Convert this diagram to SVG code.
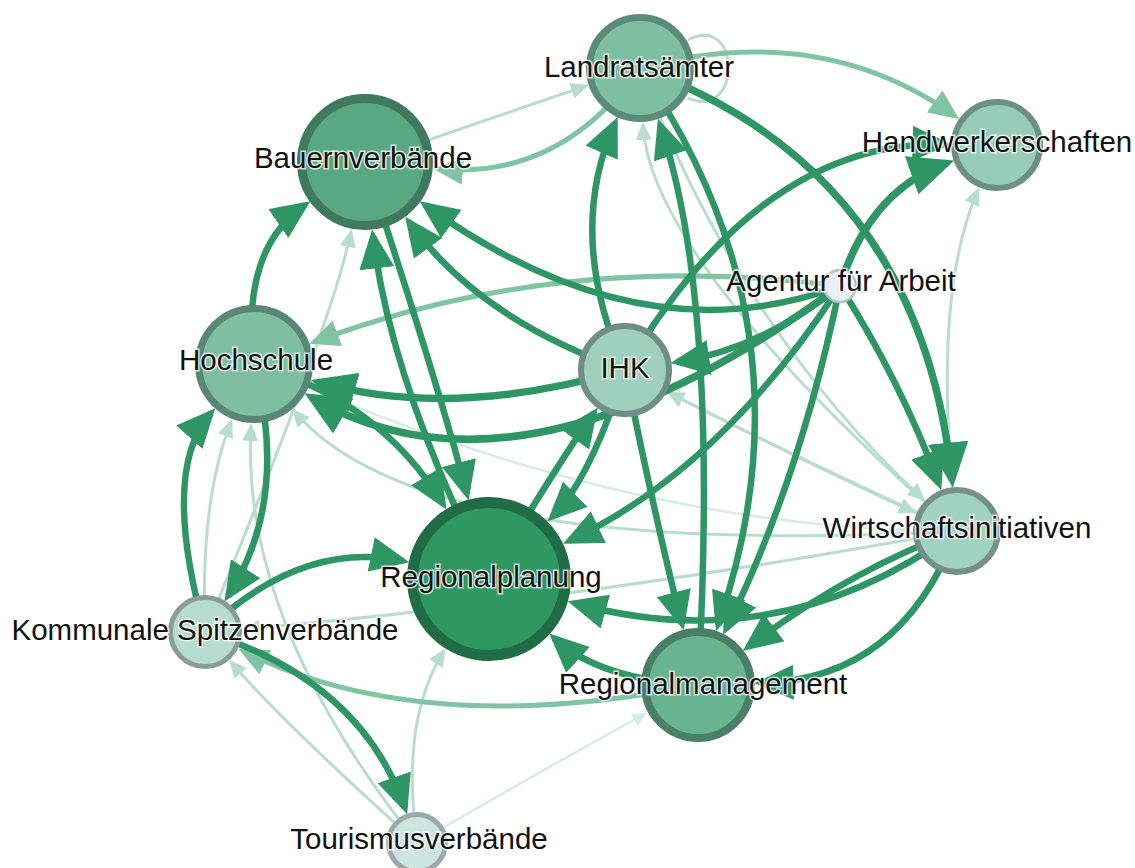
<svg xmlns="http://www.w3.org/2000/svg" width="1135" height="868" viewBox="0 0 1135 868">
  <style>
    .e { fill: none; stroke-linecap: butt; }
    .dark { stroke: #2e9664; stroke-width: 6.5; }
    .thick { stroke: #2e9664; stroke-width: 7.5; }
    .mid { stroke: #80c4a4; stroke-width: 5; }
    .light { stroke: #b9ddcd; stroke-width: 3; }
    .faint { stroke: #d6ece3; stroke-width: 2.5; }
    .dark, .thick { marker-end: url(#ah-dark); }
    .mid { marker-end: url(#ah-mid); }
    .light { marker-end: url(#ah-light); }
    .faint { marker-end: url(#ah-faint); }
    .lbl { font-family: "Liberation Sans", Arial, sans-serif; font-size: 29.5px; fill: #111; stroke: #fff; stroke-width: 3; stroke-opacity: 0.75; paint-order: stroke; text-anchor: middle; }
  </style>
  <defs>
    <marker id="ah-dark" viewBox="0 0 6 5.4" refX="5" refY="2.7" markerWidth="6" markerHeight="5.4" orient="auto" markerUnits="strokeWidth">
      <path d="M0,0 L6,2.7 L0,5.4 z" fill="#2e9664"/>
    </marker>
    <marker id="ah-mid" viewBox="0 0 6 5.4" refX="5" refY="2.7" markerWidth="6" markerHeight="5.4" orient="auto" markerUnits="strokeWidth">
      <path d="M0,0 L6,2.7 L0,5.4 z" fill="#80c4a4"/>
    </marker>
    <marker id="ah-light" viewBox="0 0 6 5.4" refX="5" refY="2.7" markerWidth="6" markerHeight="5.4" orient="auto" markerUnits="strokeWidth">
      <path d="M0,0 L6,2.7 L0,5.4 z" fill="#b9ddcd"/>
    </marker>
    <marker id="ah-faint" viewBox="0 0 6 5.4" refX="5" refY="2.7" markerWidth="6" markerHeight="5.4" orient="auto" markerUnits="strokeWidth">
      <path d="M0,0 L6,2.7 L0,5.4 z" fill="#d6ece3"/>
    </marker>
  </defs>

  <rect width="1135" height="868" fill="#fff"/>

  <g id="edges">
    <!-- weak ties -->
    <path class="e faint" d="M417,843 Q560,760 645,714"/>
    <path class="e faint" d="M254,364 Q600,520 910,530"/>
    <path class="e light" d="M365,162 Q500,115 586,86"/>
    <path class="e light" d="M205,632 Q330,330 351,232"/>
    <path class="e light" d="M205,632 Q200,500 231,422"/>
    <path class="e light" d="M957,531 Q420,560 294,411"/>
    <path class="e light" d="M417,843 Q280,720 231,662"/>
    <path class="e light" d="M417,843 Q400,720 444,651"/>
    <path class="e light" d="M417,843 Q240,620 251,426"/>
    <path class="e light" d="M957,531 Q930,300 978,190"/>
    <path class="e light" d="M640,68 Q740,330 923,499"/>
    <path class="e light" d="M625,370 Q800,460 914,512"/>
    <path class="e light" d="M957,531 Q760,440 669,393"/>
    <path class="e light" d="M957,531 Q650,260 643,125"/>
    <path class="e light" d="M957,531 Q580,600 245,629"/>
    <!-- self loop on Landratsämter -->
    <path class="e" stroke="#b9ddcd" stroke-width="3" d="M688,40 C742,12 742,122 688,98"/>

    <!-- medium ties -->
    <path class="e mid" d="M640,68 Q820,20 955,116"/>
    <path class="e mid" d="M640,68 Q560,180 438,169"/>
    <path class="e mid" d="M840,286 Q560,250 314,342"/>
    <path class="e mid" d="M698,685 Q420,740 243,651"/>

    <!-- strong ties -->
    <path class="e dark" d="M625,370 Q565,235 615,123"/>
    <path class="e dark" d="M698,685 Q720,300 660,125"/>
    <path class="e thick" d="M640,68 Q920,170 952,480"/>
    <path class="e dark" d="M640,68 Q820,330 718,625"/>
    <path class="e dark" d="M840,286 Q640,360 425,205"/>
    <path class="e dark" d="M625,370 Q480,320 409,222"/>
    <path class="e dark" d="M254,364 Q240,250 305,205"/>
    <path class="e dark" d="M489,579 Q390,380 373,236"/>
    <path class="e dark" d="M365,162 Q440,390 467,494"/>
    <path class="e dark" d="M254,364 Q380,400 443,504"/>
    <path class="e thick" d="M625,370 Q450,420 318,382"/>
    <path class="e thick" d="M840,286 Q520,520 311,397"/>
    <path class="e dark" d="M254,364 Q290,500 228,596"/>
    <path class="e dark" d="M205,632 Q160,470 211,413"/>
    <path class="e dark" d="M205,632 Q300,540 403,561"/>
    <path class="e dark" d="M205,632 Q360,680 405,808"/>
    <path class="e dark" d="M625,370 Q590,480 552,517"/>
    <path class="e dark" d="M489,579 Q560,460 594,413"/>
    <path class="e dark" d="M840,286 Q760,350 677,362"/>
    <path class="e dark" d="M840,286 Q720,470 569,541"/>
    <path class="e dark" d="M840,286 Q800,480 726,629"/>
    <path class="e dark" d="M840,286 Q900,380 939,484"/>
    <path class="e thick" d="M840,286 Q870,190 947,163"/>
    <path class="e dark" d="M625,370 Q760,140 945,144"/>
    <path class="e dark" d="M625,370 Q660,540 682,624"/>
    <path class="e dark" d="M957,531 Q850,570 748,647"/>
    <path class="e dark" d="M957,531 Q900,680 761,683"/>
    <path class="e dark" d="M957,531 Q780,660 574,603"/>
    <path class="e dark" d="M698,685 Q600,680 554,638"/>
  </g>

  <g id="node-landratsaemter">
    <circle cx="640" cy="68" r="50.5" fill="#7dbfa0" stroke="#5b8c79" stroke-width="7"/>
    <text class="lbl" x="639" y="77">Landratsämter</text>
  </g>
  <g id="node-bauernverbaende">
    <circle cx="365" cy="162" r="63.5" fill="#5aa881" stroke="#3f7a5f" stroke-width="9"/>
    <text class="lbl" x="363" y="168">Bauernverbände</text>
  </g>
  <g id="node-handwerkerschaften">
    <circle cx="997" cy="145" r="43" fill="#97cdb8" stroke="#6b8f83" stroke-width="6"/>
    <text class="lbl" x="997" y="152">Handwerkerschaften</text>
  </g>
  <g id="node-agentur">
    <circle cx="840" cy="286" r="16" fill="#e8f0fa" stroke="#b9bdc6" stroke-width="2.5"/>
    <text class="lbl" x="841" y="291">Agentur für Arbeit</text>
  </g>
  <g id="node-ihk">
    <circle cx="625" cy="370" r="44" fill="#9ed0bd" stroke="#6f8e86" stroke-width="6"/>
    <text class="lbl" x="625" y="378">IHK</text>
  </g>
  <g id="node-hochschule">
    <circle cx="254" cy="364" r="55.5" fill="#7fbea0" stroke="#5a8676" stroke-width="7"/>
    <text class="lbl" x="256" y="370">Hochschule</text>
  </g>
  <g id="node-regionalplanung">
    <circle cx="489" cy="579" r="76.5" fill="#2f9762" stroke="#1f6c45" stroke-width="11"/>
    <text class="lbl" x="491" y="587">Regionalplanung</text>
  </g>
  <g id="node-regionalmanagement">
    <circle cx="698" cy="685" r="53" fill="#67b48f" stroke="#4b7e67" stroke-width="8"/>
    <text class="lbl" x="703" y="694">Regionalmanagement</text>
  </g>
  <g id="node-wirtschaftsinitiativen">
    <circle cx="957" cy="531" r="41" fill="#a1d1bf" stroke="#749089" stroke-width="6"/>
    <text class="lbl" x="957" y="538">Wirtschaftsinitiativen</text>
  </g>
  <g id="node-kommunale">
    <circle cx="205" cy="632" r="34.5" fill="#b5dccf" stroke="#8b9b97" stroke-width="5"/>
    <text class="lbl" x="205" y="640">Kommunale Spitzenverbände</text>
  </g>
  <g id="node-tourismus">
    <circle cx="417" cy="843" r="28.5" fill="#cce5e1" stroke="#9da9a8" stroke-width="5"/>
    <text class="lbl" x="419" y="849">Tourismusverbände</text>
  </g>
</svg>
